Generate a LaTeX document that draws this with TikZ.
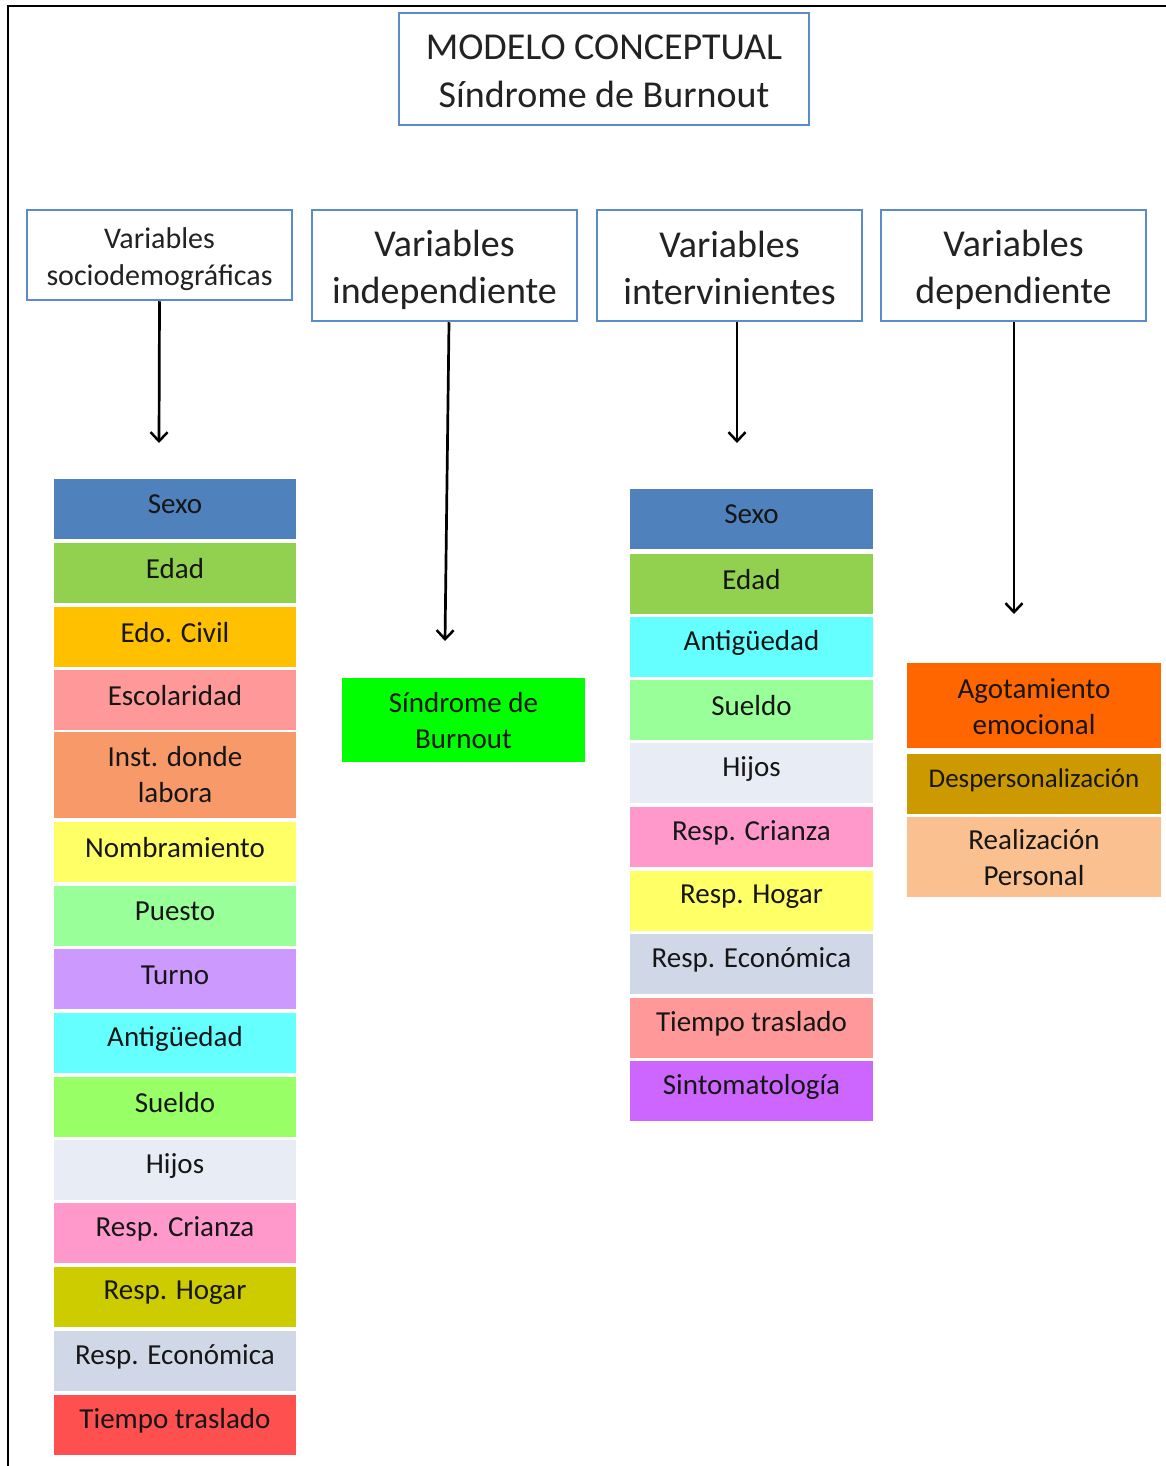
\documentclass[tikz,border=0pt]{standalone}
\usepackage{fontspec}
\setmainfont{Carlito}
\usetikzlibrary{arrows.meta}
\definecolor{bordblue}{HTML}{5B8BC9}
\definecolor{cSexo}{HTML}{4F81BD}
\definecolor{cEdad}{HTML}{92D050}
\definecolor{cCivil}{HTML}{FFC000}
\definecolor{cEsc}{HTML}{FF9999}
\definecolor{cInst}{HTML}{F8996A}
\definecolor{cNomb}{HTML}{FFFF66}
\definecolor{cPuesto}{HTML}{99FF99}
\definecolor{cTurno}{HTML}{CC99FF}
\definecolor{cAntig}{HTML}{66FFFF}
\definecolor{cSueldoL}{HTML}{99FF66}
\definecolor{cSueldoR}{HTML}{99FF99}
\definecolor{cHijos}{HTML}{E8ECF4}
\definecolor{cCrianza}{HTML}{FF99CC}
\definecolor{cHogarL}{HTML}{CCCC00}
\definecolor{cHogarR}{HTML}{FFFF66}
\definecolor{cEcon}{HTML}{D0D8E8}
\definecolor{cTiempoL}{HTML}{FF5050}
\definecolor{cTiempoR}{HTML}{FF9999}
\definecolor{cSint}{HTML}{CC66FF}
\definecolor{cSind}{HTML}{00FF00}
\definecolor{cAgot}{HTML}{FF6600}
\definecolor{cDesp}{HTML}{CC9900}
\definecolor{cReal}{HTML}{FAC090}
\definecolor{txt}{HTML}{161616}
\definecolor{htxt}{HTML}{222222}
\tikzset{
  hdr/.style={draw=bordblue, line width=2.5pt, fill=white, inner sep=0pt},
  hlbl/.style={align=center, inner sep=0pt, text=htxt, yshift=-4pt},
  cell/.style={inner sep=0pt, minimum height=60pt},
  clbl/.style={align=center, inner sep=0pt, text=txt, yshift=4pt,
    font=\fontsize{29}{36}\selectfont},
  lcell/.style={cell, minimum width=242pt},
  rcell/.style={cell, minimum width=243pt},
  dcell/.style={cell, minimum width=254pt},
  arr/.style={line width=2.7pt, -{Straight Barb[length=9pt,width=17pt,line width=2.5pt]}}
}
\newcommand\lc[4]{\node[lcell, fill=#2, label={[clbl]center:#4}] (#1) at (175,#3) {};}
\newcommand\rc[4]{\node[rcell, fill=#2, label={[clbl]center:#4}] (#1) at (751.5,#3) {};}
\begin{document}
\begin{tikzpicture}[x=1pt,y=-1pt]
\useasboundingbox (0,0) rectangle (1166,1466);
\fill[white] (0,0) rectangle (1166,1466);
\draw[line width=2pt] (8,1466) -- (8,6) -- (1166,6);

% title
\node[hdr, minimum width=410pt, minimum height=112pt,
  label={[hlbl, yshift=2pt, font=\fontsize{38}{48}\selectfont]center:MODELO CONCEPTUAL\\Síndrome de Burnout}]
  (title) at (604,69) {};

% headers
\node[hdr, minimum width=265pt, minimum height=90pt,
  label={[hlbl, font=\fontsize{30}{37}\selectfont]center:Variables\\sociodemográficas}]
  (h1) at (159.5,255) {};
\node[hdr, minimum width=265pt, minimum height=111pt,
  label={[hlbl, font=\fontsize{38}{47}\selectfont]center:Variables\\independiente}]
  (h2) at (444.5,265.5) {};
\node[hdr, minimum width=265pt, minimum height=111pt,
  label={[hlbl, yshift=2pt, font=\fontsize{38}{47}\selectfont]center:Variables\\intervinientes}]
  (h3) at (729.5,265.5) {};
\node[hdr, minimum width=265pt, minimum height=111pt,
  label={[hlbl, font=\fontsize{38}{47}\selectfont]center:Variables\\dependiente}]
  (h4) at (1013.5,265.5) {};

% arrows
\coordinate (e1) at (159,443);
\coordinate (e2) at (445,641);
\coordinate (e3) at (737,443);
\coordinate (e4) at (1014,614);
\draw[arr] (h1.south) -- (e1);
\draw[arr] ([xshift=4.5pt]h2.south) -- (e2);
\draw[arr] ([xshift=7.5pt]h3.south) -- (e3);
\draw[arr] ([xshift=0.5pt]h4.south) -- (e4);

% left column
\lc{l1}{cSexo}{508.5}{Sexo}
\lc{l2}{cEdad}{573}{Edad}
\lc{l3}{cCivil}{637}{Edo. Civil}
\lc{l4}{cEsc}{699.5}{Escolaridad}
\node[lcell, fill=cInst, minimum height=86pt,
  label={[clbl, yshift=-4pt]center:Inst. donde\\labora}] (l5) at (175,775) {};
\lc{l6}{cNomb}{852}{Nombramiento}
\lc{l7}{cPuesto}{915.5}{Puesto}
\lc{l8}{cTurno}{979}{Turno}
\lc{l9}{cAntig}{1043}{Antigüedad}
\lc{l10}{cSueldoL}{1106.5}{Sueldo}
\lc{l11}{cHijos}{1169.5}{Hijos}
\lc{l12}{cCrianza}{1233}{Resp. Crianza}
\lc{l13}{cHogarL}{1297}{Resp. Hogar}
\lc{l14}{cEcon}{1361}{Resp. Económica}
\lc{l15}{cTiempoL}{1424.5}{Tiempo traslado}

% independent
\node[cell, fill=cSind, minimum width=243pt, minimum height=84pt,
  label={[clbl, yshift=-5pt]center:Síndrome de\\Burnout}] (sb) at (463.5,720) {};

% right column
\rc{r1}{cSexo}{518.5}{Sexo}
\rc{r2}{cEdad}{583.5}{Edad}
\rc{r3}{cAntig}{647}{Antigüedad}
\rc{r4}{cSueldoR}{710}{Sueldo}
\rc{r5}{cHijos}{773}{Hijos}
\rc{r6}{cCrianza}{837}{Resp. Crianza}
\rc{r7}{cHogarR}{901}{Resp. Hogar}
\rc{r8}{cEcon}{964}{Resp. Económica}
\rc{r9}{cTiempoR}{1028}{Tiempo traslado}
\rc{r10}{cSint}{1091}{Sintomatología}

% dependent
\node[dcell, fill=cAgot, minimum height=85pt,
  label={[clbl, yshift=-5pt]center:Agotamiento\\emocional}] (d1) at (1034,705.5) {};
\node[dcell, fill=cDesp,
  label={[clbl, font=\fontsize{27}{34}\selectfont]center:Despersonalización}] (d2) at (1034,784) {};
\node[dcell, fill=cReal, minimum height=80pt,
  label={[clbl, yshift=-5pt]center:Realización\\Personal}] (d3) at (1034,857) {};
\end{tikzpicture}
\end{document}
